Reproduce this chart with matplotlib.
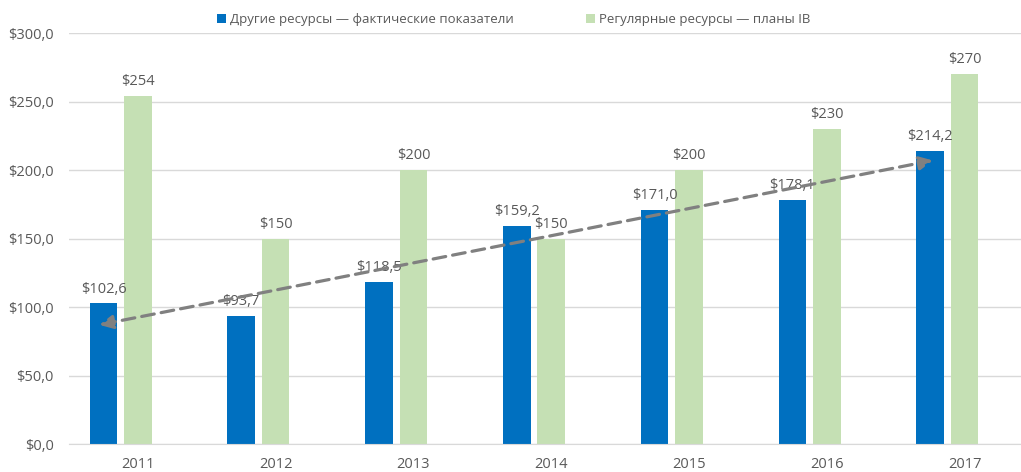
import numpy as np
import matplotlib.pyplot as plt

# données
annees = ['2011', '2012', '2013', '2014', '2015', '2016', '2017']
autres_ressources = [102.6, 93.7, 118.5, 159.2, 171.0, 178.1, 214.2]
ressources_regulieres = [254, 150, 200, 150, 200, 230, 270]
noms_series = ['Другие ресурсы — фактические показатели', 'Регулярные ресурсы — планы IB']
fleche_debut = (-0.28, 87)
fleche_fin = (5.77, 207)

bleu = '#0070C0'
vert = '#C5E0B4'
gris_texte = '#595959'

plt.rcParams['font.family'] = ['Open Sans', 'DejaVu Sans']

fig = plt.figure(figsize=(10.21, 4.72), dpi=100)
ax = fig.add_axes([0.0676, 0.0593, 0.9324, 0.8707])

x = np.arange(len(annees))
largeur = 0.2
b1 = ax.bar(x - 0.25, autres_ressources, largeur, color=bleu, label=noms_series[0], zorder=2)
b2 = ax.bar(x, ressources_regulieres, largeur, color=vert, label=noms_series[1], zorder=2)

for rect, v in zip(b1, autres_ressources):
    ax.annotate(f'${v:.1f}'.replace('.', ','), (rect.get_x() + rect.get_width() / 2, v),
                xytext=(0, 5), textcoords='offset points', ha='center', va='bottom',
                fontsize=10.5, color=gris_texte, zorder=4)
for rect, v in zip(b2, ressources_regulieres):
    ax.annotate(f'${v}', (rect.get_x() + rect.get_width() / 2, v),
                xytext=(0, 5), textcoords='offset points', ha='center', va='bottom',
                fontsize=10.5, color=gris_texte, zorder=4)

# flèche de tendance
ax.annotate('', xy=fleche_fin, xytext=fleche_debut,
            arrowprops=dict(arrowstyle='<|-|>', color='#808080', lw=2.3, linestyle=(0, (4, 2.2)),
                            mutation_scale=20, shrinkA=0, shrinkB=0), zorder=5)

ax.set_ylim(0, 300)
ax.set_yticks(np.arange(0, 301, 50))
ax.set_yticklabels([f'${v:.1f}'.replace('.', ',') for v in np.arange(0, 301, 50)])
ax.set_xlim(-0.5, 6.41)
ax.set_xticks(x)
ax.set_xticklabels(annees)
ax.grid(axis='y', color='#D9D9D9', lw=1, zorder=0)
for s in ['top', 'right', 'left']:
    ax.spines[s].set_visible(False)
ax.spines['bottom'].set_color('#D9D9D9')
ax.tick_params(axis='both', length=0, labelsize=10.5, labelcolor=gris_texte)
ax.tick_params(axis='x', pad=9)
ax.tick_params(axis='y', pad=11)

fig.legend(loc='center', bbox_to_anchor=(0.503, 0.958), ncol=2, frameon=False,
           fontsize=9.5, labelcolor=gris_texte, handlelength=0.7, handleheight=0.7,
           handletextpad=0.3, columnspacing=5.5)

fig.savefig('out.png', dpi=100)
